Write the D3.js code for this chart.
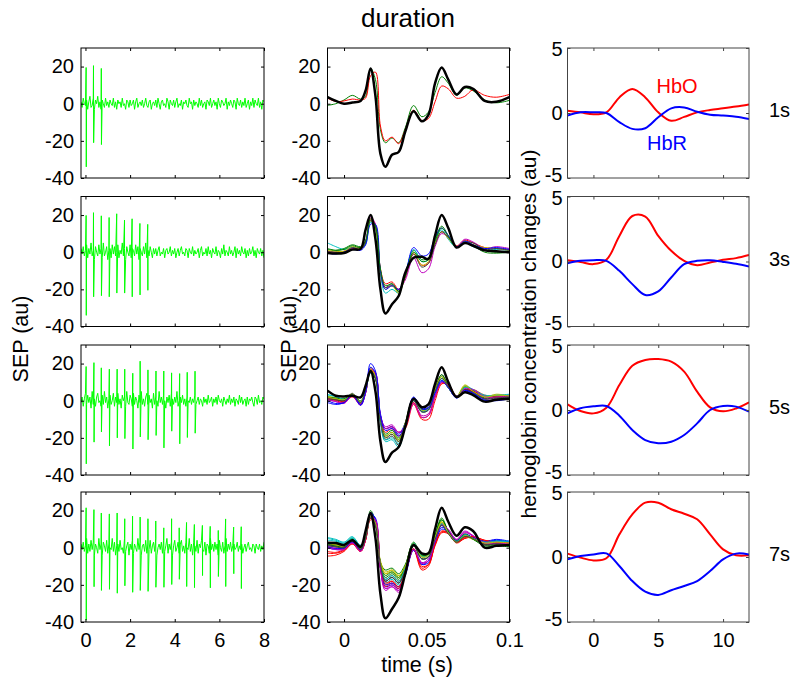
<!doctype html>
<html lang="en">
<head>
<meta charset="utf-8">
<title>duration</title>
<script src="https://cdn.jsdelivr.net/npm/d3@7"></script>
<style>
  body { margin: 0; background: #fff; }
  svg { display: block; font-family: "Liberation Sans", Arial, sans-serif; }
</style>
</head>
<body>
<div id="chart"></div>
<script>
// ---------- data ----------
const durations = ["1s", "3s", "5s", "7s"];

// left column: raw SEP, background samples every 0.05 s from -0.2 s
const noiseStart = -0.2, noiseStep = 0.05;
const noise1 = [1,-2,3,0,-1,2,-3,1,4,-2,-1,3,-3,2,0,
  4,-2,1,-3,2,0,-2,3,-1,1,-2,2,0,-1,3,
  -2,1,-3,2,0,1,-2,3,-1,0,-3,2,1,-2,2,
  -1,0,2,-3,1,3,-2,0,1,-1,2,-2,0,3,-1,
  -2,1,2,-3,0,1,-1,2,-2,3,0,-3,1,2,-1,
  0,-2,3,1,-3,2,0,-1,2,-2,1,3,-2,0,-1,
  2,-3,1,0,2,-1,-2,3,0,1,-3,2,-1,1,0,
  -2,3,-1,2,-2,0,1,-3,2,1,-1,3,-2,0,2,
  -1,1,-3,3,0,-2,2,1,-1,0,3,-3,1,-1,2,
  0,-2,2,1,-3,3,0,-1,2,-2,1,-1,3,-2,0,
  2,-3,1,-1,3,-2,2,0,-1,3,-2,1,-3,2,1];
const noise2 = [2,-1,3,-2,1,4,-3,2,-1,5,-2,1,-4,3,0,
  -2,4,-1,2,-3,5,-2,0,3,-4,1,2,-3,4,-1,
  3,-2,0,4,-3,1,-1,5,-2,2,-4,3,0,-2,4,
  -3,2,1,-2,4,-1,3,-4,2,0,-2,3,-1,5,-3,
  1,-2,3,0,-3,2,-1,2,-2,1,3,-2,0,-1,2,
  -3,1,2,-1,0,3,-2,1,-1,2,-3,0,2,-2,1,
  3,-1,0,-2,2,1,-3,2,0,-1,3,-2,1,-1,0,
  2,-3,1,3,-2,0,-1,2,-2,3,-1,1,-3,2,0,
  -1,3,-2,1,0,-3,2,-1,4,-2,1,0,-2,3,-1,
  1,-2,0,3,-3,2,-1,1,-2,3,0,-1,2,-3,1,
  -2,2,-1,0,3,-2,1,-3,2,0,-1,2,-2,1,-3];
const noise3 = [-1,2,-3,1,4,-2,3,-1,2,-4,5,-2,1,-3,2,
  4,-1,0,-3,3,-2,5,-1,2,-4,1,3,-2,0,4,
  -3,2,-1,4,-2,1,-4,3,0,2,-3,5,-1,-2,3,
  1,-3,4,-2,2,0,-4,3,-1,5,-2,1,-3,2,4,
  -2,3,-1,1,-4,4,-2,2,0,-3,5,-1,2,-2,3,
  0,-4,2,-1,3,-3,4,1,-2,2,-1,5,-3,0,2,
  -1,3,-2,1,-3,2,0,-1,2,-2,1,-1,3,-2,0,
  2,-2,1,0,-3,2,-1,1,-2,3,-1,0,2,-3,1,
  -1,2,-2,3,0,-1,1,-3,2,0,-2,1,-1,3,-2,
  1,-1,2,-3,1,0,-2,3,-1,2,-2,0,1,-3,2,
  -2,1,0,2,-1,-3,2,1,-2,3,-1,0,-2,2,1];
const noise4 = [2,-1,3,-2,1,5,-3,2,-2,4,-1,3,-4,2,0,
  -3,5,-1,2,-4,3,1,-2,4,-3,2,0,-1,5,-2,
  3,-4,1,2,-2,4,-1,0,-3,5,-2,1,3,-4,2,
  -1,4,-3,2,0,-2,5,-1,3,-4,1,2,-2,4,-3,
  2,-1,4,-3,1,3,-2,5,-4,0,2,-1,3,-3,4,
  -2,1,5,-3,2,-1,3,-4,1,4,-2,0,3,-3,2,
  4,-2,1,-3,3,0,-1,5,-2,2,-4,3,1,-2,4,
  -3,2,0,4,-1,-2,3,-4,2,1,-3,5,-1,2,-2,
  3,-1,2,-4,4,0,-2,3,-3,1,5,-2,2,-1,3,
  -2,1,2,-1,0,3,-2,1,-1,2,-3,0,2,-2,1,
  3,-1,0,-2,2,1,-3,2,0,-1,2,-2,1,-1,3];
const noiseRows = [noise1, noise2, noise3, noise4];

// stimulus artefacts: time (s), positive peak, negative trough
const spikeTimes = [
  [0.03, 0.36, 0.71],
  [0.03, 0.36, 0.71, 1.06, 1.40, 1.75, 2.09, 2.44, 2.79],
  [0.03, 0.38, 0.71, 1.07, 1.42, 1.76, 2.12, 2.45, 2.80, 3.16, 3.51, 3.86, 4.22, 4.56, 4.91],
  [0.03, 0.38, 0.71, 1.07, 1.42, 1.76, 2.11, 2.45, 2.80, 3.15, 3.51, 3.86, 4.20, 4.53, 4.88, 5.24, 5.59, 5.95, 6.28, 6.64, 6.98]
];
const spikeUp = [
  [19.5, 20.5, 19],
  [19.8, 21.3, 19.6, 18.7, 20.7, 17.3, 18, 15.5, 15],
  [18.4, 20.5, 17.7, 17, 17, 17, 14.8, 21.3, 16.6, 16, 16, 15, 14.6, 15.3, 15.9],
  [21.5, 20.5, 18.7, 18.2, 18.7, 15.6, 17, 16.5, 15.6, 14.4, 10.7, 15.6, 10.7, 13.6, 12.5, 12, 11.5, 9.3, 15.5, 11.1, 11.3]
];
const spikeDown = [
  [-34, -21, -22],
  [-34, -24, -23.4, -24, -22, -22, -24, -23, -20.5],
  [-34, -22.3, -16.8, -24.3, -20, -20.4, -26, -19.5, -21, -18.7, -25.4, -16.4, -23.2, -19.8, -17.5],
  [-39, -21, -23, -22.4, -24.5, -20.5, -24, -23, -23.5, -21.3, -21.3, -19.8, -17, -20.9, -21.5, -15, -21.6, -15.5, -20.9, -14, -22]
];

// middle column: averaged SEP per stimulus, values at these times (s)
const sepTime = [-0.01, -0.005, 0, 0.005, 0.010, 0.013, 0.016, 0.019, 0.022, 0.025, 0.029, 0.033, 0.037,
  0.042, 0.047, 0.051, 0.055, 0.059, 0.063, 0.068, 0.073, 0.078, 0.085, 0.092, 0.1];
// first stimulus (thick black) per row
const sepFirst = [
  [3.6, 1.5, 0, 0.6, 1.5, 7, 19, 4, -27, -34, -27.5, -26, -15, -4, -9.5, -6, 11, 19.5, 13, 5, 9, 8, 1.5, 1, 3.5],
  [-0.4, -0.7, -0.4, 1.4, 1.8, 12, 20, 7, -20, -33, -28, -23.6, -11, -3, -2.5, -3.6, 9, 20, 13, 2.5, 5, 3.5, 1, 0.5, 0],
  [5.4, 2.7, 2.3, 2.7, 1.8, 8, 16, 5, -22, -33, -28, -25, -14, 1, -3.5, -2, 9, 18, 10, 2, 4.5, 3, -0.5, 0.5, 1],
  [2.7, 2.5, 1.5, 4, 0.5, 9, 18.7, 5, -25, -38, -33, -27, -14, 1.5, -3, -3, 10, 21.5, 14, 6.5, 11, 9, 0, 1, 1.5]
];
// following stimuli (thin, colour cycled)
const sepRow1 = [
  [-0.9, 0, 2, 4.5, 2.5, 4, 19, 13, -14, -21, -18.5, -21, -13, -1, -7, -4.5, 6, 14.5, 11, 4.5, 8.5, 7, 2, 0.5, 1.8],
  [3, 1.2, 1.5, 2.5, 2, 3, 15, 17, -12, -20, -18, -21.5, -14, -3.5, -9, -8, 1, 9.5, 8, 3, 4, 7.5, 4.5, 3.5, 5]
];
const sepRow2 = [
  [1.5, 1, 2, 4, 3, 6, 17, 13, -11, -19, -18, -21, -12, 1, -4, -3, 7, 14, 9, 3, 6, 4, 1, 0, 0.5],
  [0.5, 0, 0.5, 2, 2.5, 5, 18, 15, -9, -17, -16, -20, -14, -1, -7, -6, 5, 11, 8, 3.5, 6.5, 5, 2.5, 2, 1.5],
  [5, 3, 1.5, 2.5, 2, 4, 16, 14, -12, -22, -20, -22, -12, 1.5, -5, -4, 6, 12, 7, 2.5, 5, 3, 1, 1.5, 1],
  [0, -0.5, 0, 2, 2.5, 6, 19, 15, -10, -19, -18, -20, -15, -3, -11, -9, 3, 10, 8, 3, 7, 5.5, 2, 3, 2],
  [1, 0.5, 0.5, 3, 2, 5, 17, 13, -11, -20, -18, -22, -13, 0, -7, -5, 5, 11, 7.5, 3, 6, 4, 2.5, 2, 1],
  [0.5, 0, 0, 2.5, 1.5, 5, 17, 14, -10, -19, -17, -21, -13, -1, -8, -6, 4, 11, 8, 3, 5.5, 5, 1.5, 2, 1],
  [-0.5, -1, 0, 1.5, 1, 4, 15, 15, -10, -20, -18, -20, -12, 2.5, -2, -1, 8, 13, 9, 3, 6, 4, 2, 2.5, 1.5],
  [2, 1, 1.5, 3.5, 2.5, 6, 18, 14, -9, -18, -17, -21, -13, 0, -5, -4, 6, 13, 8.5, 2.5, 5, 3.5, 0, -0.5, 0]
];
const sepRow3 = [
  [2, 1, 0.5, 3, -1, 5, 17, 12, -9, -18, -16, -20, -12, 1.5, -5, -4, 6, 13, 7, 2, 7, 5, 1, 2, 2],
  [0.5, 0, -1, 2, -2, 4, 16, 14, -8, -15, -14, -17, -15, -2, -10, -10, 0, 9, 9, 2.5, 5, 6, 3, 2.5, 3],
  [3.5, 2, 1, 3.5, -0.5, 5, 15, 13, -12, -22, -21, -25, -14, 0, -6, -5, 5, 11, 7, 2, 8, 6, 3, 3, 3.5],
  [1, -0.5, -1.5, 2.5, -2.5, 4, 17, 15, -8, -14, -13, -17, -13, -1, -8, -7, 3, 10, 8, 2, 6, 5.5, 1, 1.5, 2],
  [2.5, 1.5, 0, 3, -1, 5.5, 18, 13, -10, -20, -18, -22, -13, 0.5, -5, -4, 5, 12, 7.5, 2.5, 8.5, 5, 2, 3.5, 2.5],
  [1.5, 0.5, 0, 4, -1, 6, 16, 12, -11, -21, -19, -24, -14, 0, -6, -5, 6, 14, 8, 2, 6, 4, 0, 1, 1.5],
  [-1, -2, -1, 3, -2.5, 4.5, 20, 16, -7, -15, -14, -18, -12, 2, -4, -3.5, 5, 11, 7, 1.5, 5, 4, 0.5, 0, 1],
  [2, 1.5, 1, 3.5, 0, 5, 16, 12, -10, -19, -17, -21, -12, 1, -4.5, -4, 6, 14, 8, 2.5, 7.5, 5.5, 1.5, 2.5, 2],
  [1, 0.5, -0.5, 2.5, -1.5, 4.5, 17, 14, -9, -17, -15, -19, -14, -1, -9, -8, 2, 9.5, 8, 2, 6, 5, 2.5, 2, 3],
  [3, 2.5, 0.5, 3, -1, 5, 15, 13, -11, -21, -20, -23, -13, 0.5, -5.5, -4.5, 5, 12, 7, 2.5, 7, 6, 2.5, 3, 3],
  [0.5, -0.5, -1, 2.5, -2, 4, 17, 15, -8, -15, -14, -17, -14, -1.5, -9, -8, 2, 10, 8.5, 2.5, 6.5, 6, 2, 2, 2.5],
  [2, 1, 0.5, 3.5, -0.5, 5, 17, 13, -10, -19, -17, -21, -12, 1, -5, -4, 6, 13, 7, 2, 8, 5, 2, 3, 2.5],
  [1, 0.5, 0, 3, -1, 5.5, 16, 12, -10, -20, -18, -22, -13, 0, -6, -5, 5, 12, 7.5, 2, 6, 4.5, 1, 1.5, 2],
  [0, -1.5, -1, 3, -2, 4.5, 18, 15, -8, -16, -15, -19, -13, 1.5, -4.5, -4, 4, 10.5, 7, 1.5, 5.5, 4, 0, 0.5, 1]
];
const sepRow4 = [
  [2, 1.5, 1, 4, 0, 6, 19, 13, -8, -12, -11, -14, -9, 2.5, -4, -3, 6, 15, 9, 4, 7, 5, 2, 2, 1],
  [-4.5, -4, -2, 2, -2, 4, 16, 14, -10, -20, -18, -21, -14, -1, -12, -10, 2, 9, 8, 3, 5, 6, 4, 3, 2],
  [5.5, 4.5, 3, 6, 1, 6, 17, 13, -10, -18, -16, -19, -11, 2, -5, -4, 5, 13, 8, 3.5, 7, 5.5, 3, 4, 3],
  [1, 0, -0.5, 3, -1, 5, 18, 15, -11, -22, -21, -23, -14, -1, -8, -7, 4, 12, 9, 4, 8.5, 6, 2, 2.5, 2.5],
  [2.5, 2, 1, 4.5, 0.5, 6, 17, 12, -7, -13, -12, -15, -10, 2, -5, -4, 6, 14, 8, 3, 6, 4.5, 2.5, 3, 2],
  [1.5, 1, 0.5, 4, -0.5, 5.5, 16, 12, -9, -17, -15, -18, -12, 1, -6, -5, 5, 12, 8, 3, 6.5, 5, 2, 2.5, 1.5],
  [0, -1, -0.5, 3, -1.5, 4.5, 18, 16, -11, -21, -20, -22, -15, -1.5, -9, -7, 3, 11, 9, 4, 7, 5, 3, 4, 3],
  [2.5, 2, 1.5, 5, 0.5, 6.5, 20, 14, -9, -16, -14, -17, -10, 3, -4, -3, 7, 16, 9, 3.5, 7.5, 5, 1.5, 1.5, 1],
  [-2, -2.5, -1, 2.5, -1.5, 4, 15, 14, -11, -21, -19, -22, -14, -1, -10, -9, 1, 8, 7.5, 2.5, 5, 5.5, 3.5, 2.5, 2.5],
  [4, 3.5, 2, 5, 1, 5.5, 16, 13, -10, -19, -17, -20, -12, 1.5, -6, -5, 4, 12, 8, 3, 6.5, 5, 3, 3.5, 3],
  [0.5, -0.5, -1, 2.5, -1.5, 4.5, 17, 15, -12, -23, -21, -24, -14, -0.5, -8, -6, 4, 13, 9.5, 4.5, 8, 6.5, 2.5, 3, 2],
  [3, 2, 1.5, 4, 0, 6, 18, 13, -8, -14, -13, -16, -10, 2.5, -4.5, -3.5, 6, 14, 8.5, 3, 6, 4.5, 2.5, 3, 2],
  [1, 0.5, 0, 3.5, -0.5, 5, 17, 13, -9, -18, -16, -19, -12, 1, -6, -5, 5, 12.5, 8, 3, 6, 5, 2, 2, 1.5],
  [0.5, -0.5, 0, 3, -1, 5, 19, 15, -10, -20, -19, -21, -14, -1, -9, -8, 3, 10, 8.5, 3.5, 7, 5.5, 3.5, 4.5, 3.5],
  [2, 1, 0.5, 4.5, 0, 6, 18, 13, -8, -15, -13, -16, -10, 2, -4, -3.5, 6.5, 15, 9, 3.5, 7, 4.5, 1, 1, 0.5],
  [-3, -3, -1.5, 2, -2, 4, 16, 14, -10, -19, -18, -21, -13, -0.5, -11, -9, 1.5, 8.5, 8, 3, 5.5, 6, 4, 3, 2.5],
  [5, 4, 2.5, 5.5, 1.5, 6, 17, 13, -9, -17, -15, -18, -11, 2.5, -4.5, -4, 5, 13, 8, 3.5, 7, 5, 3, 3.5, 3.5],
  [0, -1, -1, 2.5, -2, 4.5, 17, 15, -11, -22, -20, -23, -14, -1, -8.5, -7, 3.5, 12, 10, 4.5, 9, 6.5, 2.5, 2.5, 2],
  [2.5, 1.5, 1, 4, 0, 5.5, 17, 13, -8, -14, -12, -15, -10, 2, -5, -4, 5.5, 13.5, 8, 3, 6.5, 5, 2.5, 3, 2.5],
  [1.5, 0.5, 0, 3.5, -1, 5, 16, 12, -9, -18, -16, -19, -12, 1, -6, -5, 4.5, 12, 7.5, 3, 6, 5, 1.5, 2, 1.5]
];
const sepRows = [sepRow1, sepRow2, sepRow3, sepRow4];
const lineColors = ["#008000", "#ff0000", "#00bfbf", "#bf00bf", "#bfbf00", "#404040", "#0000ff"];

// right column: haemoglobin changes, values at each second
const hbTime = [-2, -1, 0, 1, 2, 3, 4, 5, 6, 7, 8, 9, 10, 11, 12];
const hbo = [
  [0.18, 0.05, -0.1, 0.05, 1.2, 1.85, 1.2, 0.05, -0.6, -0.3, 0.05, 0.23, 0.36, 0.5, 0.66],
  [0.1, -0.03, -0.2, 0.13, 1.97, 3.5, 3.46, 1.97, 0.82, 0.05, -0.28, -0.08, 0.13, 0.26, 0.5],
  [0.44, -0.08, -0.26, 0.18, 1.92, 3.41, 3.85, 3.92, 3.72, 2.95, 1.41, 0.2, -0.1, 0.12, 0.59],
  [0.26, -0.05, -0.26, -0.1, 1.74, 3.28, 4.18, 4.18, 3.67, 3.33, 2.9, 1.74, 0.59, 0.13, 0.13]
];
const hbr = [
  [-0.2, 0.05, 0.05, 0, -0.7, -1.22, -1.17, -0.33, 0.36, 0.43, 0.1, -0.13, -0.2, -0.28, -0.46],
  [-0.13, 0.05, 0.1, 0.05, -0.72, -1.74, -2.58, -2.3, -1.23, -0.2, 0.05, 0.1, -0.03, -0.18, -0.38],
  [-0.26, 0.13, 0.28, 0.31, -0.44, -1.54, -2.31, -2.56, -2.44, -1.92, -1.03, 0, 0.31, 0.26, -0.13],
  [-0.18, 0.08, 0.2, 0.28, -0.69, -1.85, -2.67, -2.92, -2.56, -2.23, -1.85, -1.08, -0.18, 0.26, 0.2]
];

// ---------- layout ----------
const W = 800, H = 687;
const cols = [[81, 264], [327.5, 509.5], [567.5, 749]];
const rowTop = [48, 196.5, 345, 492];
const rowH = 130;
const font = "'Liberation Sans', Arial, sans-serif";
const tickFont = 20, labelFont = 21.5;

const svg = d3.select("#chart").append("svg").attr("width", W).attr("height", H);
const defs = svg.append("defs");
const fmt = d => String(d);

function addClip(id, x, y) {
  defs.append("clipPath").attr("id", id).append("rect")
    .attr("x", x.range()[0]).attr("y", y.range()[1])
    .attr("width", x.range()[1] - x.range()[0]).attr("height", y.range()[0] - y.range()[1]);
  return "url(#" + id + ")";
}

function drawAxes(x, y, xTicks, yTicks, showX, boxColor, yPad) {
  const g = svg.append("g");
  const [xa, xb] = x.range(), [yb, ya] = y.range();
  g.append("g").attr("transform", `translate(0,${yb})`)
    .call(d3.axisBottom(x).tickValues(xTicks).tickSize(-3).tickPadding(11).tickFormat(showX ? fmt : ""));
  g.append("g").attr("transform", `translate(0,${ya})`)
    .call(d3.axisTop(x).tickValues(xTicks).tickSize(-3).tickFormat(""));
  const left = g.append("g").attr("transform", `translate(${xa},0)`)
    .call(d3.axisLeft(y).tickValues(yTicks).tickSize(-3).tickPadding(yPad).tickFormat(fmt));
  g.append("g").attr("transform", `translate(${xb},0)`)
    .call(d3.axisRight(y).tickValues(yTicks).tickSize(-3).tickFormat(""));
  g.selectAll(".domain").remove();
  g.selectAll(".tick line").attr("stroke", boxColor);
  g.selectAll(".tick text").attr("font-size", tickFont).attr("font-family", font).attr("fill", "#000");
  g.append("rect").attr("x", xa).attr("y", ya).attr("width", xb - xa).attr("height", yb - ya)
    .attr("fill", "none").attr("stroke", boxColor).attr("stroke-width", 1);
  return left;
}

durations.forEach((label, r) => {
  const top = rowTop[r], bottom = top + rowH;
  const last = r === durations.length - 1;

  // left: raw SEP trace
  const xL = d3.scaleLinear().domain([-0.2, 8]).range(cols[0]);
  const yL = d3.scaleLinear().domain([-40, 30]).range([bottom, top]);
  const pts = noiseRows[r].map((v, i) => [noiseStart + i * noiseStep, v]);
  spikeTimes[r].forEach((t, k) => {
    pts.push([t, spikeUp[r][k]], [t + 0.006, spikeDown[r][k]]);
  });
  pts.sort((a, b) => a[0] - b[0]);
  svg.append("path").datum(pts)
    .attr("clip-path", addClip("cl" + r, xL, yL))
    .attr("fill", "none").attr("stroke", "#00ff00").attr("stroke-width", 1)
    .attr("d", d3.line().x(d => xL(d[0])).y(d => yL(d[1])));
  drawAxes(xL, yL, [0, 2, 4, 6, 8], [-40, -20, 0, 20], last, "#000", 7);

  // middle: overlaid averaged SEPs
  const xM = d3.scaleLinear().domain([-0.01, 0.1]).range(cols[1]);
  const yM = d3.scaleLinear().domain([-40, 30]).range([bottom, top]);
  const lineM = d3.line().curve(d3.curveCatmullRom.alpha(0.5))
    .x((d, i) => xM(sepTime[i])).y(d => yM(d));
  const gM = svg.append("g").attr("clip-path", addClip("cm" + r, xM, yM));
  sepRows[r].forEach((vals, k) => {
    gM.append("path").datum(vals).attr("fill", "none")
      .attr("stroke", lineColors[k % lineColors.length]).attr("stroke-width", 1)
      .attr("d", lineM);
  });
  gM.append("path").datum(sepFirst[r]).attr("fill", "none")
    .attr("stroke", "#000").attr("stroke-width", 2.5).attr("d", lineM);
  drawAxes(xM, yM, [0, 0.05, 0.1], [-40, -20, 0, 20], last, "#000", 7);

  // right: HbO / HbR
  const xR = d3.scaleLinear().domain([-2, 12]).range(cols[2]);
  const yR = d3.scaleLinear().domain([-5, 5]).range([bottom, top]);
  const lineR = d3.line().curve(d3.curveCatmullRom.alpha(0.5))
    .x((d, i) => xR(hbTime[i])).y(d => yR(d));
  const gR = svg.append("g").attr("clip-path", addClip("cr" + r, xR, yR));
  gR.append("path").datum(hbo[r]).attr("fill", "none").attr("stroke", "#ff0000")
    .attr("stroke-width", 2).attr("d", lineR);
  gR.append("path").datum(hbr[r]).attr("fill", "none").attr("stroke", "#0000ff")
    .attr("stroke-width", 2).attr("d", lineR);
  const leftR = drawAxes(xR, yR, [0, 5, 10], [-5, 0, 5], last, "#444", 5);
  // the end labels of stacked panels sit slightly apart, as in the original
  leftR.selectAll(".tick text").filter(d => d === -5).attr("y", -3);
  leftR.selectAll(".tick text").filter(d => d === 5).attr("y", 1.5);

  svg.append("text").attr("x", 769).attr("y", yR(0) + 4)
    .attr("font-size", tickFont).attr("font-family", font).text(label);

  if (r === 0) {
    svg.append("text").attr("x", 677).attr("y", 93).attr("text-anchor", "middle")
      .attr("font-size", tickFont).attr("font-family", font).attr("fill", "#ff0000").text("HbO");
    svg.append("text").attr("x", 667).attr("y", 150).attr("text-anchor", "middle")
      .attr("font-size", tickFont).attr("font-family", font).attr("fill", "#0000ff").text("HbR");
  }
});

// titles and axis labels
svg.append("text").attr("x", 408).attr("y", 27).attr("text-anchor", "middle")
  .attr("font-size", 26).attr("font-family", font).text("duration");
svg.append("text").attr("x", 417).attr("y", 672).attr("text-anchor", "middle")
  .attr("font-size", labelFont).attr("font-family", font).text("time (s)");

function yLabel(x, y, txt, size) {
  svg.append("text").attr("transform", `translate(${x},${y}) rotate(-90)`)
    .attr("text-anchor", "middle").attr("font-size", size).attr("font-family", font).text(txt);
}
yLabel(28, 339, "SEP (au)", labelFont);
yLabel(296, 339, "SEP (au)", labelFont);
yLabel(536, 334, "hemoglobin concentration changes (au)", 21);
</script>
</body>
</html>
